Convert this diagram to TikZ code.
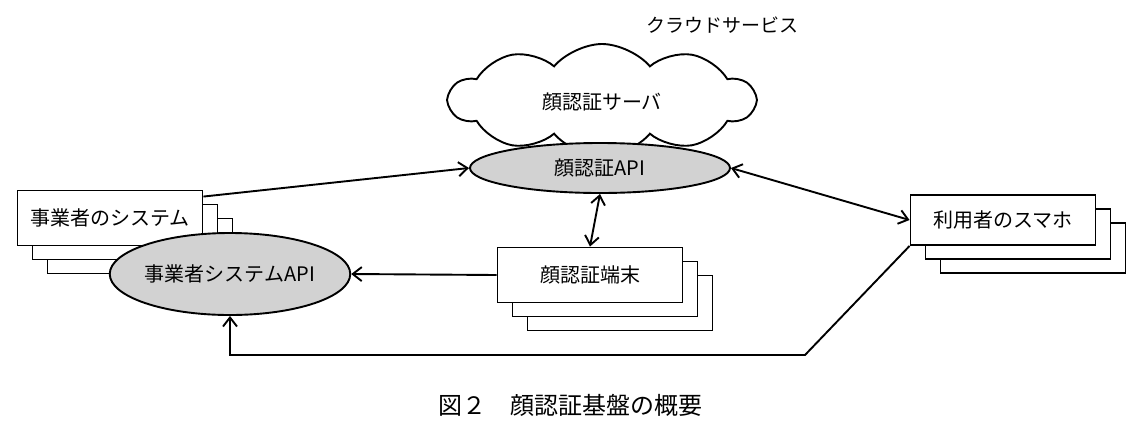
\documentclass[tikz,border=0pt]{standalone}
\usepackage{fontspec}
\setmainfont{Noto Sans CJK JP}
\usetikzlibrary{shapes.geometric,shapes.symbols,arrows.meta}
\begin{document}
\begin{tikzpicture}[x=1pt,y=-1pt,line width=1.9pt,
  >={Straight Barb[length=9pt,width=14pt]},
  box/.style={draw,fill=white,minimum width=185pt,minimum height=55pt,inner sep=0,font=\fontsize{20}{22}\selectfont},
  api/.style={draw,ellipse,fill=gray!35,inner sep=0,font=\fontsize{20}{22}\selectfont}]
\useasboundingbox (0,0) rectangle (1144,432);
\node[cloud,draw,cloud puffs=10,cloud puff arc=100,aspect=2.9,minimum width=305pt,minimum height=112pt,font=\fontsize{20}{22}\selectfont] (cloud) at (602,100) {};
\node[font=\fontsize{20}{22}\selectfont] (srv) at (602,102) {顔認証サーバ};
\node[font=\fontsize{19}{21}\selectfont] (cs) at (722,25) {クラウドサービス};
\node[api,minimum width=260pt,minimum height=50pt] (fapi) at (600,168) {顔認証API};
% business system
\node[box] (b3) at (140,246) {};
\node[box] (b2) at (125,232) {};
\node[box] (b1) at (110,218) {事業者のシステム};
\node[api,minimum width=225pt,minimum height=82pt] (sapi) at (230,274) {事業者システムAPI};
% terminal
\node[box] (t3) at (620,303) {};
\node[box] (t2) at (605,289) {};
\node[box] (t1) at (590,275) {顔認証端末};
% smartphone
\node[box,minimum height=50pt] (p3) at (1033,248) {};
\node[box,minimum height=50pt] (p2) at (1018,234) {};
\node[box,minimum height=50pt] (p1) at (1003,220) {利用者のスマホ};
\draw[->] (b1.north east) ++(0,7) coordinate (bs) -- (fapi.west);
\draw[<->] (fapi.east) -- (p1.west);
\draw[<->] (fapi.south) -- (t1.north);
\draw[->] (t1.west) -- (sapi.east);
\coordinate (c1) at (805,355);
\coordinate (c2) at (230,355);
\draw[->] (p1.south west) -- (c1) -- (c2) -- (sapi.south);
\node[font=\fontsize{24}{26}\selectfont] (cap) at (570,405) {図２\quad 顔認証基盤の概要};
\end{tikzpicture}
\end{document}
